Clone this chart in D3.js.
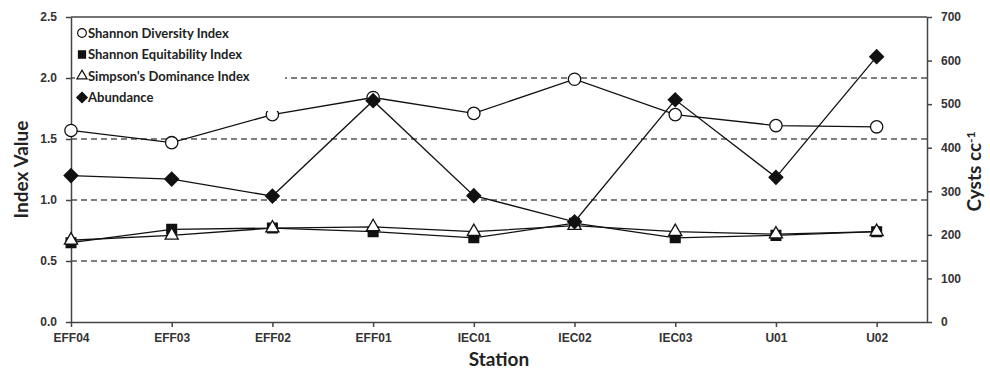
<!DOCTYPE html>
<html>
<head>
  <meta charset="UTF-8">
  <style>
    body {
      margin: 0;
      padding: 0;
      background-color: #ffffff;
      font-family: Lato, "Open Sans", sans-serif;
    }
    svg {
      display: block;
    }
    .tick text {
      font-size: 12px;
      font-weight: bold;
      fill: #333;
    }
    .domain, .tick line {
      stroke: #444;
      stroke-width: 1.5;
    }
    .title {
      font-size: 19px;
      font-weight: bold;
      fill: #222;
    }
    #legend text {
      font-size: 13px;
      font-weight: bold;
      fill: #222;
    }
  </style>
</head>
<body>
  <svg></svg>
  <script src="https://d3js.org/d3.v7.min.js"></script>

  <script>
  let width = 990, height = 373;

  // data
  const stations = ["EFF04", "EFF03", "EFF02", "EFF01", "IEC01", "IEC02", "IEC03", "U01", "U02"];
  const shannonDiversity = [1.57, 1.47, 1.70, 1.84, 1.71, 1.99, 1.70, 1.61, 1.60];
  const shannonEquitability = [0.65, 0.76, 0.77, 0.74, 0.69, 0.81, 0.69, 0.71, 0.74];
  const simpsonDominance = [0.67, 0.71, 0.77, 0.78, 0.74, 0.79, 0.74, 0.72, 0.74];
  const abundance = [336, 328, 289, 508, 290, 230, 510, 332, 609];
  const leftTicks = [0, 0.5, 1.0, 1.5, 2.0, 2.5];
  const rightTicks = [0, 100, 200, 300, 400, 500, 600, 700];
  const gridValues = [0.5, 1.0, 1.5, 2.0];

  const margin = {top: 17, right: 63, bottom: 51, left: 71};
  const plotW = width - margin.left - margin.right;
  const plotH = height - margin.top - margin.bottom;

  let svg = d3.select("svg")
      .attr("width", width)
      .attr("height", height);

  let g = svg.append("g")
      .attr("transform", `translate(${margin.left},${margin.top})`);

  // points sit on 0..8, the axis runs half a step past the last one
  const x = d3.scaleLinear().domain([0, stations.length - 0.5]).range([0, plotW]);
  const yLeft = d3.scaleLinear().domain([0, 2.5]).range([plotH, 0]);
  const yRight = d3.scaleLinear().domain([0, 700]).range([plotH, 0]);

  // dashed gridlines
  g.append("g")
      .selectAll("line")
      .data(gridValues)
      .enter()
      .append("line")
      .attr("x1", 0)
      .attr("x2", plotW)
      .attr("y1", d => yLeft(d))
      .attr("y2", d => yLeft(d))
      .attr("stroke", "#555")
      .attr("stroke-width", 1.6)
      .attr("stroke-dasharray", "6,4");

  // top border
  g.append("line")
      .attr("x1", 0).attr("x2", plotW)
      .attr("y1", 0).attr("y2", 0)
      .attr("stroke", "#444")
      .attr("stroke-width", 1.5);

  g.append("g")
      .attr("transform", `translate(0,${plotH})`)
      .call(d3.axisBottom(x)
          .tickValues(d3.range(stations.length))
          .tickFormat(i => stations[i])
          .tickSize(5)
          .tickSizeOuter(0)
          .tickPadding(6));

  g.append("g")
      .call(d3.axisLeft(yLeft)
          .tickValues(leftTicks)
          .tickFormat(d3.format(".1f"))
          .tickSize(5)
          .tickSizeOuter(0)
          .tickPadding(9));

  g.append("g")
      .attr("transform", `translate(${plotW},0)`)
      .call(d3.axisRight(yRight)
          .tickValues(rightTicks)
          .tickSize(5)
          .tickSizeOuter(0)
          .tickPadding(9));

  // series lines
  function drawLine(values, yScale) {
      g.append("path")
          .datum(values)
          .attr("fill", "none")
          .attr("stroke", "#111")
          .attr("stroke-width", 1.3)
          .attr("d", d3.line().x((d, i) => x(i)).y(d => yScale(d)));
  }

  drawLine(shannonDiversity, yLeft);
  drawLine(simpsonDominance, yLeft);
  drawLine(shannonEquitability, yLeft);
  drawLine(abundance, yRight);

  // square diamond (rotated square), not d3's tall diamond
  const rhombus = {
      draw(context, size) {
          const r = Math.sqrt(size / 2);
          context.moveTo(0, -r);
          context.lineTo(r, 0);
          context.lineTo(0, r);
          context.lineTo(-r, 0);
          context.closePath();
      }
  };

  const markers = {
      circle: size => d3.symbol().type(d3.symbolCircle).size(size)(),
      square: size => d3.symbol().type(d3.symbolSquare).size(size)(),
      triangle: size => d3.symbol().type(d3.symbolTriangle).size(size)(),
      diamond: size => d3.symbol().type(rhombus).size(size)()
  };

  function drawMarkers(values, yScale, shape, size, fill) {
      g.append("g")
          .selectAll("path")
          .data(values)
          .enter()
          .append("path")
          .attr("transform", (d, i) => `translate(${x(i)},${yScale(d)})`)
          .attr("d", markers[shape](size))
          .attr("fill", fill)
          .attr("stroke", "#111")
          .attr("stroke-width", 1.3);
  }

  drawMarkers(shannonDiversity, yLeft, "circle", 120, "white");
  drawMarkers(shannonEquitability, yLeft, "square", 95, "#111");
  drawMarkers(simpsonDominance, yLeft, "triangle", 75, "white");
  drawMarkers(abundance, yRight, "diamond", 95, "#111");

  // legend
  const legendItems = [
      {name: "Shannon Diversity Index", shape: "circle", size: 60, fill: "white"},
      {name: "Shannon Equitability Index", shape: "square", size: 50, fill: "#111"},
      {name: "Simpson's Dominance Index", shape: "triangle", size: 45, fill: "white"},
      {name: "Abundance", shape: "diamond", size: 55, fill: "#111"}
  ];

  const legend = g.append("g")
      .attr("id", "legend")
      .attr("transform", "translate(4, 6)");

  legend.append("rect")
      .attr("x", 0)
      .attr("y", 0)
      .attr("width", 210)
      .attr("height", 88)
      .attr("fill", "white");

  const rows = legend.selectAll("g")
      .data(legendItems)
      .enter()
      .append("g")
      .attr("transform", (d, i) => `translate(7, ${10 + i * 21.5})`);

  rows.append("path")
      .attr("d", d => markers[d.shape](d.size))
      .attr("fill", d => d.fill)
      .attr("stroke", "#111")
      .attr("stroke-width", 1.2);

  rows.append("text")
      .attr("x", 6)
      .attr("dy", "0.35em")
      .text(d => d.name);

  // axis titles
  svg.append("text")
      .attr("class", "title")
      .attr("transform", `translate(28, ${margin.top + plotH / 2}) rotate(-90)`)
      .attr("text-anchor", "middle")
      .text("Index Value");

  svg.append("text")
      .attr("class", "title")
      .attr("x", margin.left + plotW / 2)
      .attr("y", 366)
      .attr("text-anchor", "middle")
      .text("Station");

  const rt = svg.append("text")
      .attr("class", "title")
      .attr("transform", `translate(981, ${margin.top + plotH / 2 + 2}) rotate(-90)`)
      .attr("text-anchor", "middle");
  rt.append("tspan").text("Cysts cc");
  rt.append("tspan")
      .attr("dy", "-0.5em")
      .style("font-size", "12px")
      .text("-1");
  </script>

</body>
</html>
